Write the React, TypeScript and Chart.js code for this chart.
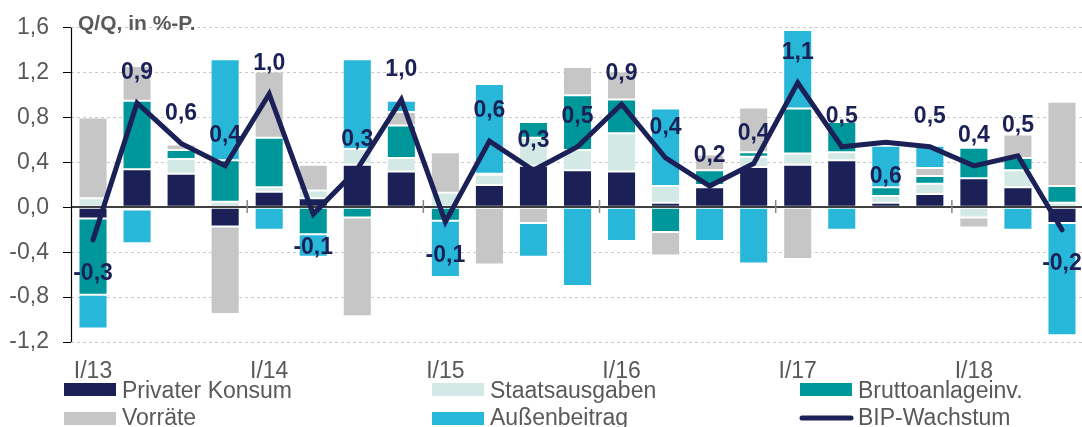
import React, { useEffect, useRef } from 'react';
import { Chart, registerables } from 'chart.js';

Chart.register(...registerables);

// ---- data ----
const categories = [
  'I/13', 'II/13', 'III/13', 'IV/13',
  'I/14', 'II/14', 'III/14', 'IV/14',
  'I/15', 'II/15', 'III/15', 'IV/15',
  'I/16', 'II/16', 'III/16', 'IV/16',
  'I/17', 'II/17', 'III/17', 'IV/17',
  'I/18', 'II/18', 'III/18',
];

const privaterKonsum = [-0.1, 0.34, 0.3, -0.17, 0.14, 0.08, 0.38, 0.32, 0, 0.2, 0.37, 0.33, 0.32, 0.04, 0.18, 0.36, 0.38, 0.42, 0.04, 0.12, 0.26, 0.18, -0.14];
const staatsausgaben = [0.08, -0.02, 0.13, 0.05, 0.04, 0.07, 0.14, 0.12, 0.13, 0.09, 0.25, 0.18, 0.34, 0.15, 0.02, 0.09, 0.1, 0.07, 0.06, 0.09, -0.09, 0.15, 0.04];
const bruttoanlageinv = [-0.68, 0.61, 0.08, 0.37, 0.44, -0.24, -0.09, 0.29, -0.12, 0.01, 0.14, 0.49, 0.3, -0.22, 0.13, 0.04, 0.4, 0.27, 0.08, 0.07, 0.27, 0.11, 0.15];
const vorraete = [0.72, 0.31, 0.05, -0.78, 0.59, 0.23, -0.88, 0.12, 0.36, -0.51, -0.14, 0.25, 0.25, -0.21, 0.14, 0.4, -0.46, 0, 0, 0.07, -0.09, 0.21, 0.75];
const aussenbeitrag = [-0.3, -0.3, 0, 0.9, -0.2, -0.2, 0.8, 0.1, -0.5, 0.8, -0.3, -0.7, -0.3, 0.69, -0.3, -0.5, 0.7, -0.2, 0.37, 0.2, 0, -0.2, -1.0];
const bipWachstum = [-0.29, 0.93, 0.57, 0.37, 1.01, -0.06, 0.34, 0.96, -0.13, 0.59, 0.33, 0.54, 0.92, 0.44, 0.19, 0.39, 1.11, 0.54, 0.58, 0.54, 0.37, 0.46, -0.2];

const yTicks = [-1.2, -0.8, -0.4, 0, 0.4, 0.8, 1.2, 1.6];
const titleText = 'Q/Q, in %-P.';
// indices whose value label sits below the line point
const labelsBelow = [0, 5, 8, 18, 22];

// ---- styles ----
const NAVY = '#1b2157';
const MINT = '#d3e9e5';
const TEAL = '#00979b';
const GRAY = '#c6c6c6';
const CYAN = '#29b7d9';
const TEXT = '#595959';
const FONT = '"Liberation Sans", Arial, sans-serif';

const legendItems = [
  { label: 'Privater Konsum', color: NAVY, line: false },
  { label: 'Staatsausgaben', color: MINT, line: false },
  { label: 'Bruttoanlageinv.', color: TEAL, line: false },
  { label: 'Vorräte', color: GRAY, line: false },
  { label: 'Außenbeitrag', color: CYAN, line: false },
  { label: 'BIP-Wachstum', color: NAVY, line: true },
];

const fmt = (v: number) => v.toFixed(1).replace('.', ',');

const overlayPlugin = {
  id: 'overlay',
  beforeDatasetDraw(chart: any, args: any) {
    if (args.index !== 5) return;
    const { ctx, chartArea } = chart;
    const y0 = Math.round(chart.scales.y.getPixelForValue(0));
    const xs = chart.scales.x;
    ctx.save();
    ctx.strokeStyle = '#000';
    ctx.lineWidth = 1.3;
    ctx.beginPath();
    ctx.moveTo(chartArea.left, y0);
    ctx.lineTo(chartArea.right, y0);
    ctx.stroke();
    ctx.strokeStyle = '#888';
    ctx.lineWidth = 1.5;
    for (let i = 4; i < categories.length; i += 4) {
      const x = (xs.getPixelForValue(i - 1) + xs.getPixelForValue(i)) / 2;
      ctx.beginPath();
      ctx.moveTo(x, y0 - 7);
      ctx.lineTo(x, y0 + 6);
      ctx.stroke();
    }
    ctx.restore();
  },
  afterDatasetsDraw(chart: any) {
    const { ctx, chartArea } = chart;
    ctx.save();
    // y axis line
    ctx.strokeStyle = '#000';
    ctx.lineWidth = 1.2;
    ctx.beginPath();
    ctx.moveTo(chartArea.left + 0.5, chartArea.top);
    ctx.lineTo(chartArea.left + 0.5, chartArea.bottom);
    ctx.stroke();
    // value labels
    const meta = chart.getDatasetMeta(5);
    ctx.font = `bold 23px ${FONT}`;
    ctx.fillStyle = NAVY;
    ctx.textAlign = 'center';
    ctx.textBaseline = 'middle';
    meta.data.forEach((pt: any, i: number) => {
      const below = labelsBelow.includes(i);
      const y = below ? pt.y + 34 : pt.y - 30;
      ctx.fillText(fmt(bipWachstum[i]), pt.x, y);
    });
    ctx.restore();
  },
  afterDraw(chart: any) {
    const { ctx } = chart;
    ctx.save();
    // title
    ctx.font = `bold 21px ${FONT}`;
    ctx.fillStyle = TEXT;
    ctx.textAlign = 'left';
    ctx.textBaseline = 'alphabetic';
    ctx.fillText(titleText, 78, 30);
    // legend
    const cols = [64, 432, 800];
    const rowsBox = [383, 412];
    const rowsText = [398, 425];
    ctx.font = `23px ${FONT}`;
    legendItems.forEach((it, k) => {
      const c = k % 3;
      const r = Math.floor(k / 3);
      const x = cols[c];
      if (it.line) {
        ctx.strokeStyle = it.color;
        ctx.lineWidth = 5;
        ctx.lineCap = 'round';
        ctx.beginPath();
        ctx.moveTo(x + 2, rowsBox[r] + 6);
        ctx.lineTo(x + 51, rowsBox[r] + 6);
        ctx.stroke();
      } else {
        ctx.fillStyle = it.color;
        ctx.fillRect(x, rowsBox[r], 52, 13);
      }
      ctx.fillStyle = TEXT;
      ctx.fillText(it.label, x + 58, rowsText[r]);
    });
    ctx.restore();
  },
};

export default function App() {
  const ref = useRef<HTMLCanvasElement>(null);

  useEffect(() => {
    document.body.style.margin = '0';
    document.body.style.overflow = 'hidden';
    Chart.defaults.font.family = FONT;

    const barDs = (label: string, data: number[], color: string) => ({
      type: 'bar' as const,
      label,
      data,
      backgroundColor: color,
      borderColor: 'rgba(255,255,255,0.3)',
      borderWidth: 1,
      borderSkipped: false,
      stack: 'bars',
      barPercentage: 0.66,
      categoryPercentage: 1,
      order: 1,
    });

    const chart = new Chart(ref.current as HTMLCanvasElement, {
      type: 'bar',
      data: {
        labels: categories,
        datasets: [
          barDs('Privater Konsum', privaterKonsum, NAVY),
          barDs('Staatsausgaben', staatsausgaben, MINT),
          barDs('Bruttoanlageinv.', bruttoanlageinv, TEAL),
          barDs('Vorräte', vorraete, GRAY),
          barDs('Außenbeitrag', aussenbeitrag, CYAN),
          {
            type: 'line' as const,
            label: 'BIP-Wachstum',
            data: bipWachstum,
            borderColor: NAVY,
            borderWidth: 5,
            pointRadius: 0,
            tension: 0,
            borderJoinStyle: 'miter',
            borderCapStyle: 'round',
            stack: 'bip',
            order: 0,
          } as any,
        ],
      },
      options: {
        animation: false,
        responsive: true,
        maintainAspectRatio: false,
        layout: { padding: { top: 26, left: 0, right: 0, bottom: 0 } },
        plugins: {
          legend: { display: false },
          tooltip: { enabled: false },
          title: { display: false },
        },
        scales: {
          x: {
            stacked: true,
            grid: { display: false },
            border: { display: false },
            ticks: {
              autoSkip: false,
              maxRotation: 0,
              minRotation: 0,
              padding: 8,
              color: TEXT,
              font: { size: 23, family: FONT },
              callback: (_v: any, i: number) => (categories[i].startsWith('I/') ? categories[i] : ''),
            },
            afterFit: (scale: any) => {
              scale.height = 85;
            },
          },
          y: {
            stacked: true,
            min: yTicks[0],
            max: yTicks[yTicks.length - 1],
            afterBuildTicks: (scale: any) => {
              scale.ticks = yTicks.map((v) => ({ value: v }));
            },
            grid: {
              color: (c: any) => (c.tick && Math.abs(c.tick.value) < 1e-9 ? 'rgba(0,0,0,0)' : '#c8c8c8'),
              lineWidth: 1,
              tickColor: '#000',
              tickLength: 8,
              tickWidth: 1,
            },
            border: { display: false, dash: [3, 3] },
            ticks: {
              padding: 14,
              color: TEXT,
              font: { size: 23, family: FONT },
              callback: (v: any) => fmt(Number(v)),
            },
            afterFit: (scale: any) => {
              scale.width = 71;
            },
          },
        },
      },
      plugins: [overlayPlugin],
    });

    return () => chart.destroy();
  }, []);

  return (
    <div style={{ position: 'fixed', left: 0, top: 0, width: 1082, height: 427, overflow: 'hidden', background: '#fff' }}>
      <div style={{ position: 'relative', width: 1084, height: 427 }}>
        <canvas ref={ref} />
      </div>
    </div>
  );
}
